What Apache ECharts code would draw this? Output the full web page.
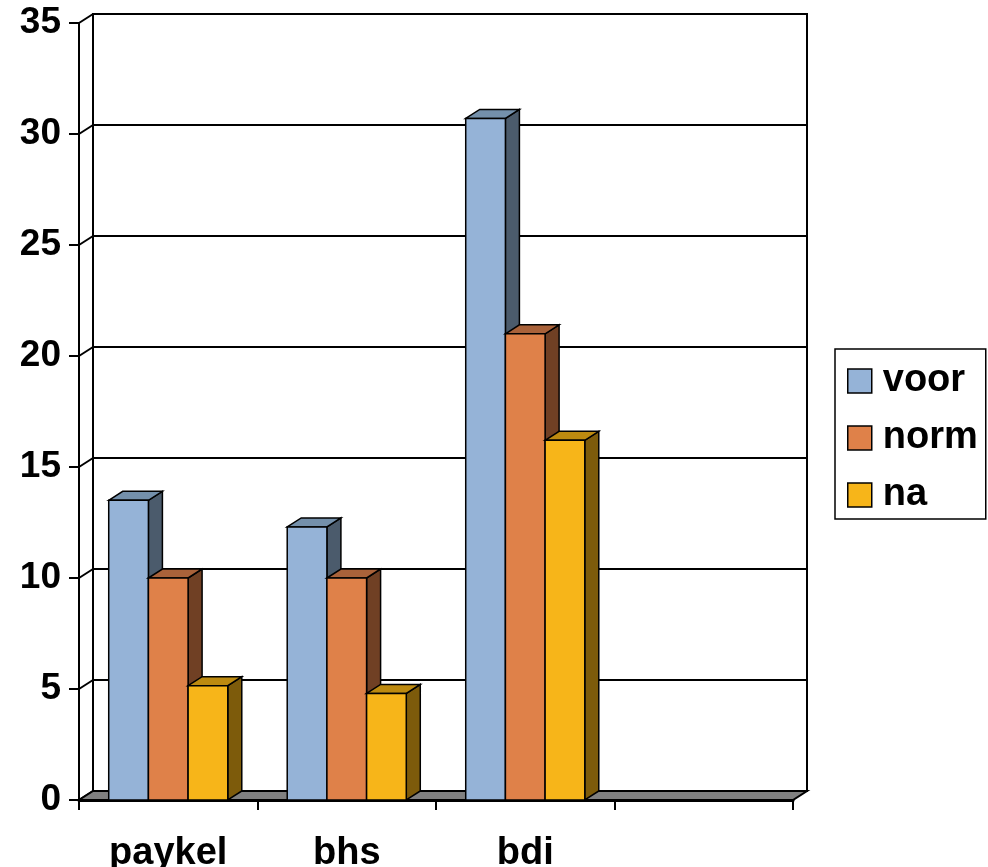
<!DOCTYPE html>
<html>
<head>
<meta charset="utf-8">
<script src="https://cdn.jsdelivr.net/npm/echarts@6/dist/echarts.min.js"></script>
<style>
html, body { margin: 0; padding: 0; background: #fff; }
#chart { width: 988px; height: 867px; }
</style>
</head>
<body>
<div id="chart"></div>
<script>
// Categories and series values
const categories = ['paykel', 'bhs', 'bdi', ''];
const voor = [13.5, 12.3, 30.7, null];
const norm = [10, 10, 21, null];
const na = [5.15, 4.8, 16.2, null];
const yTicks = [0, 5, 10, 15, 20, 25, 30, 35];
const seriesNames = ['voor', 'norm', 'na'];

// Shading for the 3D boxes: front, top, side
const palette = [
  { front: '#95B3D7', top: '#7490AB', side: '#4B5B6C' },
  { front: '#DF8149', top: '#A9623A', side: '#704024' },
  { front: '#F7B519', top: '#BD8A10', side: '#7D5B0B' }
];

// Depth offset of the back wall relative to the front plane
const DX = 14, DY = -9;
const BAR_SHARE = 0.667;
const FONT = 'Arial, "Liberation Sans", Helvetica, sans-serif';

const chart = echarts.init(document.getElementById('chart'), null, { renderer: 'canvas' });

function barSeries(values, idx) {
  const col = palette[idx];
  return {
    name: seriesNames[idx],
    type: 'custom',
    xAxisIndex: 0,
    yAxisIndex: 0,
    z: 5,
    itemStyle: { color: col.front, borderColor: '#000', borderWidth: 1.5 },
    data: values.map((v, i) => [i, v]).filter(d => d[1] != null),
    renderItem: function (params, api) {
      const cat = api.value(0);
      const top = api.coord([cat, api.value(1)]);
      const base = api.coord([cat, 0]);
      const bandW = api.size([1, 0])[0];
      const bw = bandW * BAR_SHARE / 3;
      const x0 = top[0] - 1.5 * bw + idx * bw;
      const x1 = x0 + bw;
      const yt = top[1], yb = base[1];
      const stroke = { stroke: '#000', lineWidth: 1.5 };
      return {
        type: 'group',
        children: [
          { type: 'polygon', shape: { points: [[x1, yt], [x1 + DX, yt + DY], [x1 + DX, yb + DY], [x1, yb]] },
            style: Object.assign({ fill: col.side }, stroke) },
          { type: 'polygon', shape: { points: [[x0, yt], [x0 + DX, yt + DY], [x1 + DX, yt + DY], [x1, yt]] },
            style: Object.assign({ fill: col.top }, stroke) },
          { type: 'rect', shape: { x: x0, y: yt, width: bw, height: yb - yt },
            style: Object.assign({ fill: col.front }, stroke) }
        ]
      };
    }
  };
}

const option = {
  backgroundColor: '#fff',
  animation: false,
  grid: [
    // front plane
    { left: 79, top: 23, width: 714, height: 777, show: false, containLabel: false, outerBoundsMode: 'none' },
    // back wall
    { left: 93, top: 14, width: 714, height: 777, show: true, borderColor: '#000', borderWidth: 2,
      backgroundColor: 'transparent', containLabel: false, outerBoundsMode: 'none' }
  ],
  xAxis: [
    {
      gridIndex: 0, type: 'category', data: categories, boundaryGap: true,
      axisLine: { show: true, lineStyle: { color: '#000', width: 3 } },
      axisTick: { show: true, length: 10, inside: false, alignWithLabel: false, lineStyle: { color: '#000', width: 2 } },
      axisLabel: { color: '#000', fontSize: 38, fontWeight: 'bold', fontFamily: FONT, margin: 35 },
      splitLine: { show: false }
    },
    {
      gridIndex: 1, type: 'category', data: categories, show: false
    }
  ],
  yAxis: [
    {
      gridIndex: 0, type: 'value', min: 0, max: 35, interval: 5,
      axisLine: { show: true, lineStyle: { color: '#000', width: 2 } },
      axisTick: { show: true, length: 10, lineStyle: { color: '#000', width: 2 } },
      axisLabel: { color: '#000', fontSize: 37, fontWeight: 'bold', fontFamily: FONT, margin: 18, padding: [5, 0, 0, 0] },
      splitLine: { show: false }
    },
    {
      gridIndex: 1, type: 'value', min: 0, max: 35, interval: 5,
      axisLine: { show: false }, axisTick: { show: false }, axisLabel: { show: false },
      splitLine: { show: true, lineStyle: { color: '#000', width: 2 } }
    }
  ],
  legend: {
    orient: 'vertical',
    left: 835, top: 349,
    padding: [13, 8, 5, 12],
    borderColor: '#000', borderWidth: 1.5,
    backgroundColor: '#fff',
    itemWidth: 24, itemHeight: 24, itemGap: 19,
    icon: 'rect',
    data: seriesNames.map((n, i) => ({ name: n, itemStyle: { color: palette[i].front, borderColor: '#000', borderWidth: 1.5 } })),
    textStyle: { color: '#000', fontSize: 38, fontWeight: 'bold', fontFamily: FONT, lineHeight: 38, padding: [0, 0, 0, 6] }
  },
  series: [
    // diagonal edges of the left side wall, one per tick
    {
      type: 'custom', xAxisIndex: 0, yAxisIndex: 0, z: 1, silent: true,
      data: yTicks.map(v => [0, v]),
      renderItem: function (params, api) {
        const p = api.coord([0, api.value(1)]);
        const xL = p[0] - api.size([1, 0])[0] / 2;
        return { type: 'line', shape: { x1: xL, y1: p[1], x2: xL + DX, y2: p[1] + DY },
          style: { stroke: '#000', lineWidth: 2 } };
      }
    },
    // grey floor
    {
      type: 'custom', xAxisIndex: 0, yAxisIndex: 0, z: 2, silent: true,
      data: [[0, 0]],
      renderItem: function (params, api) {
        const bandW = api.size([1, 0])[0];
        const a = api.coord([0, 0]);
        const b = api.coord([categories.length - 1, 0]);
        const xL = a[0] - bandW / 2, xR = b[0] + bandW / 2, y = a[1];
        return { type: 'polygon', shape: { points: [[xL, y], [xR, y], [xR + DX, y + DY], [xL + DX, y + DY]] },
          style: { fill: '#808080', stroke: '#000', lineWidth: 2 } };
      }
    },
    barSeries(voor, 0),
    barSeries(norm, 1),
    barSeries(na, 2)
  ]
};

chart.setOption(option);
</script>
</body>
</html>
